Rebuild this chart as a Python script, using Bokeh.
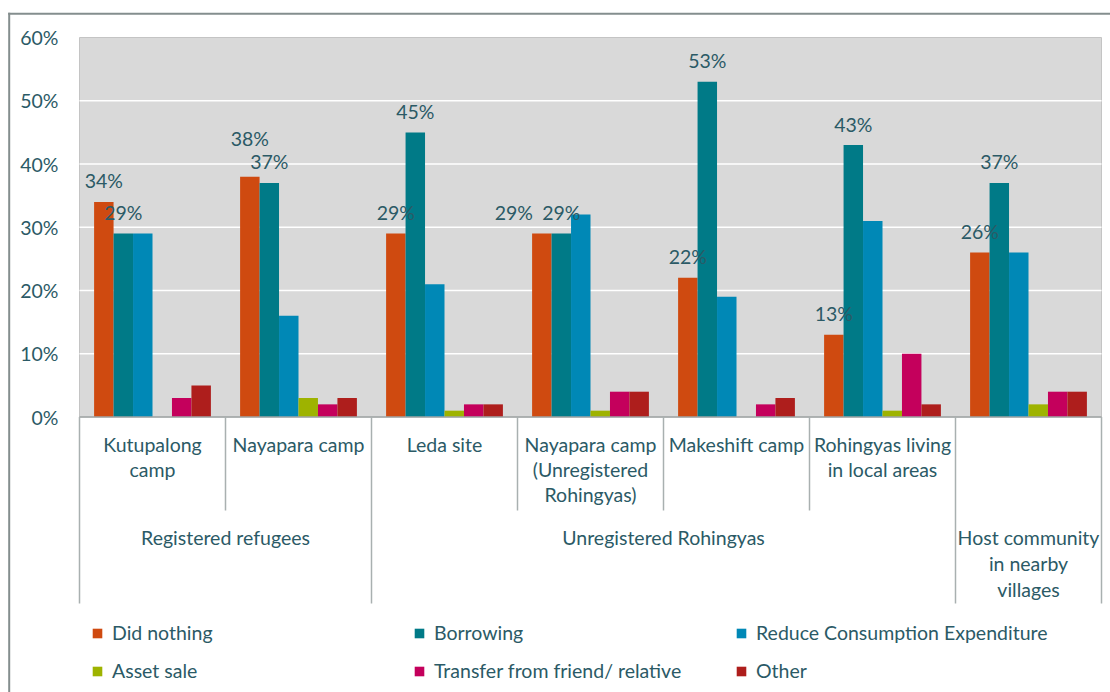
from bokeh.plotting import figure
from bokeh.models import Range1d, Legend, LegendItem
from bokeh.core.properties import value
from bokeh.embed import file_html
from bokeh.resources import INLINE

# ---------------- data ----------------
sub_labels = ["Kutupalong\ncamp", "Nayapara camp", "Leda site",
              "Nayapara camp\n(Unregistered\nRohingyas)", "Makeshift camp",
              "Rohingyas living\nin local areas", ""]
group_labels = ["Registered refugees", "Unregistered Rohingyas",
                "Host community\nin nearby\nvillages"]
group_sizes = [2, 4, 1]

series_names = ["Did nothing", "Borrowing", "Reduce Consumption Expenditure",
                "Asset sale", "Transfer from friend/ relative", "Other"]
did_nothing = [34, 38, 29, 29, 22, 13, 26]
borrowing = [29, 37, 45, 29, 53, 43, 37]
reduce_consumption = [29, 16, 21, 32, 19, 31, 26]
asset_sale = [0, 3, 1, 1, 0, 1, 2]
transfer = [3, 2, 2, 4, 2, 10, 4]
other = [5, 3, 2, 4, 3, 2, 4]
series_values = [did_nothing, borrowing, reduce_consumption, asset_sale, transfer, other]
labelled_series = [0, 1]          # data labels shown for these series
y_ticks = [0, 10, 20, 30, 40, 50, 60]

# ---------------- styles ----------------
colors = ["#CF4A10", "#007A87", "#0088B6", "#9EB300", "#C4005C", "#AE1E1C"]
TEXT = "#2b5a66"
FONT = value("Lato")
FS = "19.5px"
# manual nudges (px) of a few data labels, as in the original
label_dx = {0: [0, 0, 0, -28, 0, 0, 0], 1: [0] * 7}
label_dy = {0: [0, 17, 0, 0, 0, 0, 0], 1: [0] * 7}

# ---------------- layout ----------------
W, H = 1110, 692
PL, PR, PT, PB = 79, 1101, 37, 416.5
n = len(sub_labels)
GX = (PR - PL) / n
YMAX = y_ticks[-1]
PXU = (PB - PT) / YMAX


def dxp(px):
    return (px - PL) / GX


def dyp(py):
    return (PB - py) / PXU


p = figure(width=W, height=H, output_backend="svg", toolbar_location=None,
           x_range=Range1d(-PL / GX, n + (W - PR) / GX),
           y_range=Range1d(-(H - PB) / PXU, YMAX + PT / PXU),
           x_axis_location=None, y_axis_location=None, min_border=0)
p.grid.grid_line_color = None
p.outline_line_color = None
p.background_fill_color = "white"
p.border_fill_color = "white"

# outer chart-area border (left and top)
p.segment(x0=[dxp(8.7), dxp(7.7)], x1=[dxp(8.7), dxp(1112)],
          y0=[dyp(12.3), dyp(13.2)], y1=[dyp(700), dyp(13.2)],
          line_color="#848e8e", line_width=2)

# plot area
p.quad(left=[0], right=[n], bottom=[0], top=[YMAX], fill_color="#D9D9D9",
       line_color="#c4c4c4", line_width=1)
grid_vals = y_ticks[1:-1]
p.segment(x0=[0] * len(grid_vals), x1=[n] * len(grid_vals), y0=grid_vals, y1=grid_vals,
          line_color="white", line_width=1.6)

# bars
ns = len(series_names)
bw = 0.8 / ns
items = []
for i, (name, vals) in enumerate(zip(series_names, series_values)):
    xs = [g + 0.1 + (i + 0.5) * bw for g in range(n)]
    r = p.vbar(x=xs, top=vals, bottom=0, width=bw, fill_color=colors[i], line_color=None)
    items.append(LegendItem(label=name, renderers=[r]))

# baseline
p.segment(x0=[0], x1=[n], y0=[0], y1=[0], line_color="#9fa5a5", line_width=1.6)

# y tick labels
p.text(x=[dxp(58)] * len(y_ticks), y=y_ticks, text=[f"{t}%" for t in y_ticks],
       text_align="right", text_baseline="middle", text_font=FONT,
       text_font_size=FS, text_color=TEXT)

# category separators
bounds = [0]
for s in group_sizes:
    bounds.append(bounds[-1] + s)
for b in range(n + 1):
    bottom = dyp(603) if b in bounds else dyp(510)
    p.segment(x0=[b], x1=[b], y0=[0], y1=[bottom], line_color="#a9b0b0", line_width=1.5)

# sub-category labels
tx, ty, tt = [], [], []
for g, lab in enumerate(sub_labels):
    for j, line in enumerate(lab.split("\n")):
        if line:
            tx.append(g + 0.5)
            ty.append(dyp(444 + 25 * j))
            tt.append(line)
# group labels
for k, lab in enumerate(group_labels):
    cx = (bounds[k] + bounds[k + 1]) / 2
    for j, line in enumerate(lab.split("\n")):
        tx.append(cx)
        ty.append(dyp(537 + 25.8 * j))
        tt.append(line)
p.text(x=tx, y=ty, text=tt, text_align="center", text_baseline="middle",
       text_font=FONT, text_font_size=FS, text_color=TEXT)

# data labels
lx, ly, lt = [], [], []
for i in labelled_series:
    for g, v in enumerate(series_values[i]):
        lx.append(g + 0.1 + (i + 0.5) * bw + label_dx[i][g] / GX)
        ly.append(v + (21 + label_dy[i][g]) / PXU)
        lt.append(f"{v}%")
p.text(x=lx, y=ly, text=lt, text_align="center", text_baseline="middle",
       text_font=FONT, text_font_size=FS, text_color=TEXT)

# legend
legend = Legend(items=items, orientation="horizontal", ncols=3,
                location=(91, 10),
                label_text_font="Lato", label_text_font_size=FS, label_text_color=TEXT,
                glyph_width=12, glyph_height=12, label_standoff=9,
                label_width=286, label_height=20, spacing=15,
                padding=0, margin=0, border_line_color=None,
                background_fill_alpha=0)
p.add_layout(legend)

open("out.html", "w").write(file_html(p, INLINE))
